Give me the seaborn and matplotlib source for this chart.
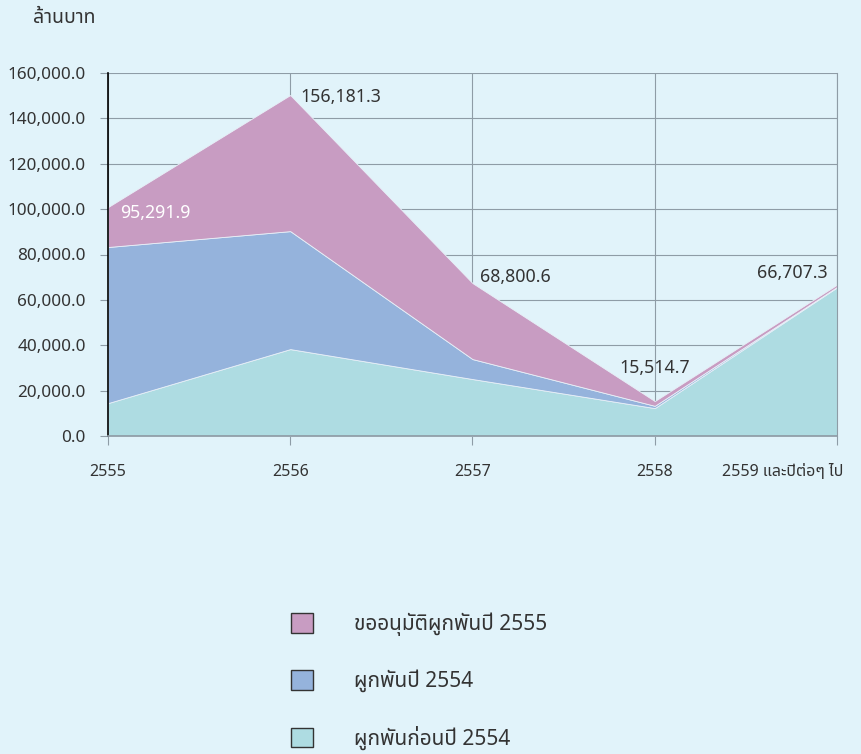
import matplotlib
matplotlib.use('Agg')
import matplotlib.pyplot as plt
import matplotlib.transforms as mtransforms
import seaborn as sns
import numpy as np
from matplotlib import font_manager
from matplotlib.patches import Patch
from fontTools.ttLib import TTFont

# Data (million baht)
years = ['2555', '2556', '2557', '2558', '2559 และปีต่อๆ ไป']
before_2554 = [14500, 38300, 25100, 12300, 65500]
year_2554 = [68800, 52000, 8800, 1000, 200]
request_2555 = [17600, 60000, 33500, 2100, 1000]
total_labels = ['95,291.9', '156,181.3', '68,800.6', '15,514.7', '66,707.3']
series_names = ['ขออนุมัติผูกพันปี 2555', 'ผูกพันปี 2554', 'ผูกพันก่อนปี 2554']
colors = ['#C89CC2', '#95B3DC', '#AEDCE2']  # pink, blue, teal
bg = '#E1F3FA'


def find_thai_font():
    names = []
    for f in font_manager.fontManager.ttflist:
        try:
            cmap = TTFont(f.fname, fontNumber=0, lazy=True).getBestCmap()
        except Exception:
            continue
        if cmap and 0x0E01 in cmap and 0x0E49 in cmap and 0x0E32 in cmap:
            names.append(f.name)
    for pref in ['Noto Sans Thai', 'Noto Sans Thai UI', 'Loma', 'Garuda', 'Sarabun']:
        if pref in names:
            return pref
    return names[0] if names else 'DejaVu Sans'


sns.set_theme(style='white')
thai = find_thai_font()
plt.rcParams['font.family'] = [thai, 'DejaVu Sans']
plt.rcParams['text.color'] = '#333333'

fig = plt.figure(figsize=(8.62, 7.54), dpi=100, facecolor=bg)
ax = fig.add_axes([108 / 862, 318 / 754, 729 / 862, 363 / 754])
ax.set_facecolor(bg)

x = np.arange(len(years))
ax.stackplot(x, before_2554, year_2554, request_2555,
             colors=colors[::-1], edgecolor='#E8F0F8', linewidth=0.6, zorder=2)

ax.set_xlim(0, 4)
ax.set_ylim(0, 160000)
ax.set_yticks(np.arange(0, 160001, 20000))
ax.set_yticklabels([f'{v:,.1f}' for v in np.arange(0, 160001, 20000)])
ax.set_xticks(x)
ax.set_xticklabels(years)

ax.grid(True, color='#8E9CA6', linewidth=0.8, zorder=1)
ax.set_axisbelow(True)
ax.spines['top'].set_visible(False)
ax.spines['right'].set_color('#8E9CA6')
ax.spines['right'].set_linewidth(0.8)
ax.spines['left'].set_color('black')
ax.spines['left'].set_linewidth(1.2)
ax.spines['bottom'].set_color('#8E9CA6')
ax.spines['bottom'].set_zorder(3)
ax.tick_params(axis='y', length=6, width=0.8, color='#8E9CA6', labelsize=12.3,
               labelcolor='#333333', pad=10, left=True)
ax.tick_params(axis='x', length=6.5, width=0.8, color='#8E9CA6', labelsize=11.5,
               labelcolor='#333333', pad=14, bottom=True, direction='out')

# last category label sits flush with the right edge
last = ax.get_xticklabels()[-1]
last.set_ha('right')
last.set_transform(last.get_transform() +
                   mtransforms.ScaledTranslation(6 / 100, 0, fig.dpi_scale_trans))

# total labels
totals = np.array(before_2554) + np.array(year_2554) + np.array(request_2555)
offsets = [(12, -6, 'left', 'white'), (10, -2, 'left', '#333333'),
           (8, 6, 'left', '#333333'), (0, 33, 'center', '#333333'),
           (-9, 12, 'right', '#333333')]
for xi, t, lab, (dx, dy, ha, c) in zip(x, totals, total_labels, offsets):
    ax.annotate(lab, (xi, t), xytext=(dx, dy), textcoords='offset pixels',
                ha=ha, va='center', fontsize=12.8, color=c, zorder=5)

fig.text(33 / 862, 1 - 18 / 754, 'ล้านบาท', fontsize=14, color='#333333',
         ha='left', va='center')

handles = [Patch(facecolor=c, edgecolor='#333333', linewidth=1) for c in colors]
fig.legend(handles, series_names, loc='upper left',
           bbox_to_anchor=(272 / 862, 1 - 594 / 754), frameon=False,
           fontsize=15, handlelength=1.06, handleheight=1.06,
           handletextpad=2.0, labelspacing=1.6)

fig.savefig('out.png', dpi=100, facecolor=bg)
